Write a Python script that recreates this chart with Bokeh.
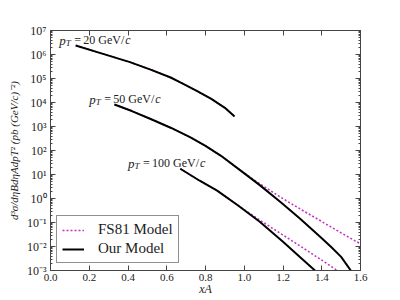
import math
from bokeh.plotting import figure
from bokeh.models import (Range1d, LinearAxis, LogAxis, FixedTicker, NumeralTickFormatter,
                          CustomJSTickFormatter, Legend, LegendItem, Label)
from bokeh.embed import file_html
from bokeh.resources import INLINE

# ---------------- data ----------------
x_pt20 = [0.13, 0.25, 0.41, 0.52, 0.62, 0.67, 0.75, 0.83, 0.90, 0.95]
our_pt20 = [2.37e6, 1.20e6, 4.8e5, 2.3e5, 1.10e5, 6.9e4, 3.2e4, 1.41e4, 6.0e3, 2.6e3]
fs81_pt20 = [2.37e6, 1.20e6, 4.8e5, 2.3e5, 1.10e5, 6.9e4, 3.2e4, 1.41e4, 6.0e3, 2.7e3]

x_pt50 = [0.33, 0.42, 0.52, 0.62, 0.72, 0.80, 0.88, 0.98, 1.08, 1.19, 1.29, 1.40, 1.45, 1.50, 1.55]
our_pt50 = [8.3e3, 4.4e3, 2.0e3, 8.9e2, 3.6e2, 1.55e2, 60.0, 14.8, 3.6, 0.68, 0.14, 0.022, 9.3e-3, 3.7e-3, 1.0e-3]
x_fs_pt50 = [0.33, 0.42, 0.52, 0.62, 0.72, 0.80, 0.88, 0.98, 1.03, 1.08, 1.19, 1.29, 1.40, 1.50, 1.60]
fs81_pt50 = [8.3e3, 4.4e3, 2.0e3, 8.9e2, 3.6e2, 1.55e2, 60.0, 14.8, 7.8, 4.1, 1.10, 0.36, 0.11, 0.037, 0.0129]

x_pt100 = [0.67, 0.77, 0.86, 0.97, 1.08, 1.20, 1.29, 1.365]
our_pt100 = [17.4, 5.5, 2.14, 0.50, 0.107, 0.0158, 3.5e-3, 1.0e-3]
x_fs_pt100 = [0.67, 0.77, 0.86, 0.97, 1.08, 1.20, 1.30, 1.40, 1.48]
fs81_pt100 = [17.4, 5.5, 2.14, 0.50, 0.126, 0.030, 9.1e-3, 2.7e-3, 1.0e-3]

pt_values = ["20", "50", "100"]
x_ticks = [0.0, 0.2, 0.4, 0.6, 0.8, 1.0, 1.2, 1.4, 1.6]
y_ticks = [1e-3, 1e-2, 1e-1, 1e0, 1e1, 1e2, 1e3, 1e4, 1e5, 1e6, 1e7]
y_tick_labels = ["10⁻³", "10⁻²", "10⁻¹", "10⁰", "10¹", "10²", "10³", "10⁴", "10⁵", "10⁶", "10⁷"]
y_minor = [m * 10.0 ** e for e in range(-3, 7) for m in range(2, 10)]

FONT = "Liberation Serif"
AXC = "#444444"
TXT = "#222222"

p = figure(width=396, height=298, y_axis_type="log", output_backend="svg",
           toolbar_location=None, x_range=Range1d(0, 1.6), y_range=Range1d(1e-3, 1e7),
           min_border_left=50, min_border_right=36, min_border_top=30, min_border_bottom=28)
p.grid.visible = False
p.outline_line_color = AXC
p.background_fill_color = "white"
p.border_fill_color = "white"

def style_axis(ax):
    ax.axis_line_color = AXC
    ax.major_tick_line_color = AXC
    ax.minor_tick_line_color = AXC
    ax.major_tick_in = 5
    ax.major_tick_out = 0
    ax.minor_tick_in = 2
    ax.minor_tick_out = 0
    ax.major_label_text_font = FONT
    ax.major_label_text_font_size = "12px"
    ax.major_label_text_color = TXT
    ax.major_label_standoff = 4

xt = FixedTicker(ticks=x_ticks)
yt = FixedTicker(ticks=y_ticks, minor_ticks=y_minor)
blank = CustomJSTickFormatter(code="return ''")

xa = p.xaxis[0]
xa.ticker = xt
xa.formatter = NumeralTickFormatter(format="0.0")
style_axis(xa)
xa.major_label_text_font_size = "11px"
xa.major_label_standoff = 3
xa.minor_tick_line_color = None
xa.axis_label = "xA"
xa.axis_label_text_font = FONT
xa.axis_label_text_font_style = "italic"
xa.axis_label_text_font_size = "12px"
xa.axis_label_text_color = TXT
xa.axis_label_standoff = -2

ya = p.yaxis[0]
ya.ticker = yt
ya.major_label_overrides = {v: s for v, s in zip(y_ticks, y_tick_labels)}
style_axis(ya)
ya.axis_label = "d³σ/dηBdηAdpT² (pb (GeV/c)⁻²)"
ya.axis_label_text_font = FONT
ya.axis_label_text_font_style = "italic"
ya.axis_label_text_font_size = "11px"
ya.axis_label_text_color = TXT
ya.axis_label_standoff = 4

top = LinearAxis(ticker=xt, formatter=blank)
style_axis(top)
top.minor_tick_line_color = None
p.add_layout(top, "above")
right = LogAxis(ticker=yt, formatter=blank)
style_axis(right)
p.add_layout(right, "right")

MAG = "#c030c0"
f1 = p.line(x_pt20, fs81_pt20, line_color=MAG, line_width=1.5, line_dash="2 2")
p.line(x_fs_pt50, fs81_pt50, line_color=MAG, line_width=1.5, line_dash="2 2")
p.line(x_fs_pt100, fs81_pt100, line_color=MAG, line_width=1.5, line_dash="2 2")
o1 = p.line(x_pt20, our_pt20, line_color="black", line_width=2)
p.line(x_pt50, our_pt50, line_color="black", line_width=2)
p.line(x_pt100, our_pt100, line_color="black", line_width=2)

legend = Legend(items=[LegendItem(label="FS81 Model", renderers=[f1]),
                       LegendItem(label="Our Model", renderers=[o1])],
                location=(6, 7), label_text_font=FONT, label_text_font_size="15px",
                label_text_color=TXT,
                border_line_color="#222222", border_line_width=1.2, padding=5,
                glyph_width=22, glyph_height=16, label_height=16, spacing=2,
                label_standoff=14, margin=0, background_fill_alpha=1)
p.add_layout(legend, "center")

# pT annotations (data anchors, pixel offsets for the pieces)
def ptlabel(x, y, txt):
    kw = dict(x=x, y=y, text_font=FONT, text_baseline="alphabetic", text_color=TXT)
    extra = 6 * (len(txt) - 2)
    p.add_layout(Label(text="p", text_font_style="italic", text_font_size="13px", **kw))
    p.add_layout(Label(text="T", text_font_style="italic", text_font_size="9px",
                       x_offset=6.5, y_offset=-3, **kw))
    p.add_layout(Label(text="=", text_font_size="12px", x_offset=15, **kw))
    p.add_layout(Label(text=txt, text_font_size="12px", x_offset=24, **kw))
    p.add_layout(Label(text="GeV/", text_font_size="12px", x_offset=39 + extra, **kw))
    p.add_layout(Label(text="c", text_font_style="italic", text_font_size="12px",
                       x_offset=66 + extra, **kw))

ptlabel(0.045, 10 ** 6.6, pt_values[0])
ptlabel(0.20, 10 ** 4.14, pt_values[1])
ptlabel(0.40, 10 ** 1.47, pt_values[2])

open("out.html", "w").write(file_html(p, INLINE))
